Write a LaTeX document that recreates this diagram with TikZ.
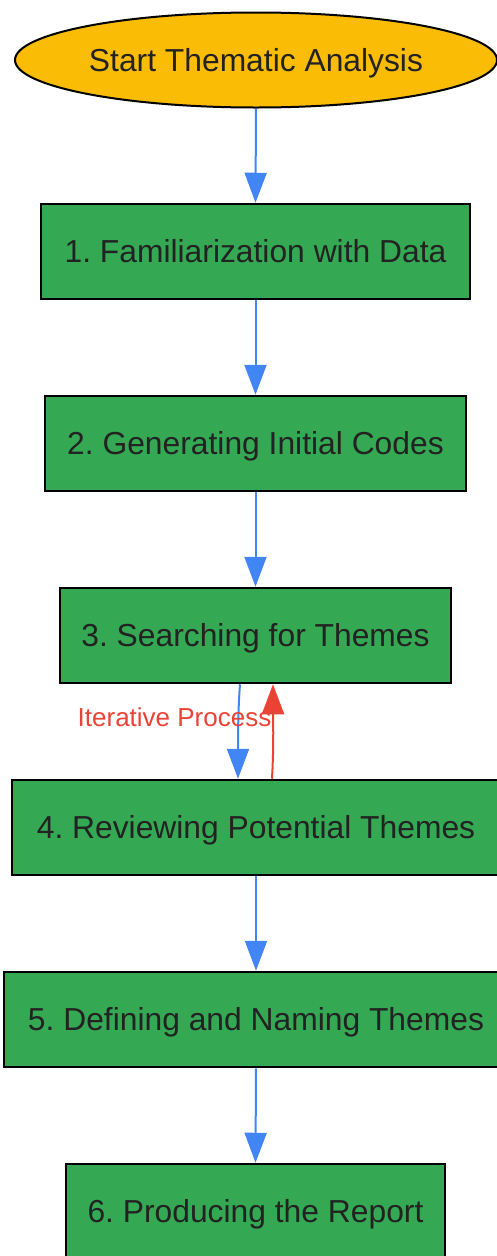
\documentclass[tikz,border=0pt]{standalone}
\usepackage{fontspec}
\setmainfont{Liberation Sans}
\frenchspacing
\usetikzlibrary{arrows.meta,shapes.geometric}
\definecolor{gGreen}{HTML}{34A853}
\definecolor{gYellow}{HTML}{FBBC05}
\definecolor{gBlue}{HTML}{4285F4}
\definecolor{gRed}{HTML}{EA4335}
\definecolor{txt}{HTML}{222222}
\tikzset{
  stepbox/.style={draw=black, line width=2.5pt, fill=gGreen, minimum height=95pt, inner sep=0pt,
    text height=22.8pt, text depth=0pt,
    text=txt, font=\fontsize{31.8}{36}\selectfont\frenchspacing},
  startnode/.style={ellipse, draw=black, line width=2pt, fill=gYellow, minimum width=482pt, minimum height=95pt,
    inner sep=0pt, text height=22.8pt, text depth=0pt, text=txt, font=\fontsize{31.8}{36}\selectfont},
  flow/.style={draw=gBlue, line width=2pt, -{Triangle[length=30pt,width=22pt]}},
  back/.style={draw=gRed, line width=2pt, -{Triangle[length=30pt,width=22pt]}},
}
\begin{document}
\begin{tikzpicture}[x=1pt,y=1pt]
\useasboundingbox (0,0) rectangle (497,-1256);
\clip (0,0) rectangle (497,-1256);
\node[startnode] (s) at (256,-60) {Start Thematic Analysis};
\node[stepbox, minimum width=429pt] (n1) at (255.5,-251.5) {1. Familiarization with Data};
\node[stepbox, minimum width=421pt] (n2) at (255.5,-443.5) {2. Generating Initial Codes};
\node[stepbox, minimum width=391pt] (n3) at (255.5,-635.5) {3. Searching for Themes};
\node[stepbox, minimum width=488pt] (n4) at (256,-827.5) {4. Reviewing Potential Themes};
\node[stepbox, minimum width=504pt] (n5) at (256,-1019.5) {5. Defining and Naming Themes};
\node[stepbox, minimum width=379pt] (n6) at (255.5,-1211.5) {6. Producing the Report};
\draw[flow] (s.south) -- (n1.north);
\draw[flow] (n1.south) -- (n2.north);
\draw[flow] (n2.south) -- (n3.north);
\draw[flow] ([xshift=-15.5pt]n3.south) .. controls +(-2,-25) and +(0,40) .. ([xshift=-18pt]n4.north);
\draw[back] ([xshift=16pt]n4.north) .. controls +(2,35) and +(0,-30) .. ([xshift=17.5pt]n3.south);
\draw[flow] (n4.south) -- (n5.north);
\draw[flow] (n5.south) -- (n6.north);
\node[text=gRed, font=\fontsize{26}{30}\selectfont, inner sep=0pt, text height=18.6pt, text depth=0pt] (lab) at (174.5,-717) {Iterative Process};
\end{tikzpicture}
\end{document}
